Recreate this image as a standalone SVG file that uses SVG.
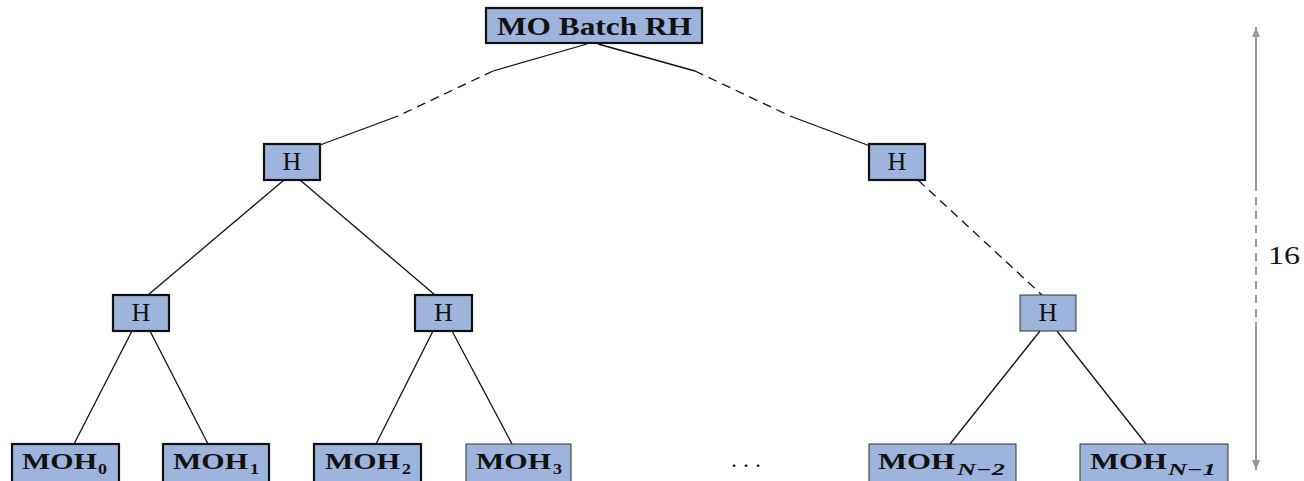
<svg xmlns="http://www.w3.org/2000/svg" width="1304" height="481" viewBox="0 0 1304 481">
<style>
.box{fill:#9eb4dc;stroke:#111;stroke-width:2.2}
.thin{fill:#9eb4dc;stroke:#333;stroke-width:1}
.t{font-family:"Liberation Serif","DejaVu Serif",serif;fill:#111}
.b{font-weight:bold}
.c{fill:none;stroke:#111;stroke-width:1.3}
.d{stroke-dasharray:9 6}
.g{fill:none;stroke:#999;stroke-width:2}
</style>
<defs>
<marker id="ah" viewBox="0 0 10 10" refX="10" refY="5" markerWidth="10" markerHeight="10" markerUnits="userSpaceOnUse" orient="auto">
<path d="M0,1 L10,5 L0,9 Z" fill="#999"/>
</marker>
</defs>
<g id="connectors">
<path class="c" d="M587,44 L493,71"/>
<path class="c d" d="M493,71 L398,116"/>
<path class="c" d="M398,116 L320,145"/>
<path class="c" d="M598,44 L695,71"/>
<path class="c d" d="M695,71 L790,116"/>
<path class="c" d="M790,116 L870,146"/>
<path class="c" d="M284,180 L148,295"/>
<path class="c" d="M300,180 L435,295"/>
<path class="c d" d="M918,180 L1042,295"/>
<path class="c" d="M132,331 L74,444"/>
<path class="c" d="M150,331 L208,444"/>
<path class="c" d="M433,331 L376,444"/>
<path class="c" d="M452,331 L512,444"/>
<path class="c" d="M1040,331 L950,444"/>
<path class="c" d="M1057,331 L1146,444"/>
</g>
<g id="root">
<rect class="box" x="486" y="8" width="216" height="35"/>
<text class="t b" x="497" y="35" font-size="26" textLength="195" lengthAdjust="spacingAndGlyphs">MO Batch RH</text>
</g>
<g id="h1l">
<rect class="box" x="264" y="144" width="56" height="36"/>
<text class="t" x="292" y="170" font-size="26" text-anchor="middle">H</text>
</g>
<g id="h1r">
<rect class="box" x="869" y="144" width="56" height="36"/>
<text class="t" x="897" y="170" font-size="26" text-anchor="middle">H</text>
</g>
<g id="h2a">
<rect class="box" x="113" y="295" width="56" height="36"/>
<text class="t" x="141" y="321" font-size="26" text-anchor="middle">H</text>
</g>
<g id="h2b">
<rect class="box" x="415" y="295" width="57" height="36"/>
<text class="t" x="443.5" y="321" font-size="26" text-anchor="middle">H</text>
</g>
<g id="h2c">
<rect class="thin" x="1020" y="295" width="56" height="36"/>
<text class="t" x="1048" y="321" font-size="26" text-anchor="middle">H</text>
</g>
<g id="moh0">
<rect class="box" x="12" y="444" width="107" height="50"/>
<text class="t b" x="22" y="469" font-size="24" textLength="75" lengthAdjust="spacingAndGlyphs">MOH</text>
<text class="t b" x="98" y="474" font-size="15" textLength="9" lengthAdjust="spacingAndGlyphs">0</text>
</g>
<g id="moh1">
<rect class="box" x="163" y="444" width="106" height="50"/>
<text class="t b" x="173" y="469" font-size="24" textLength="75" lengthAdjust="spacingAndGlyphs">MOH</text>
<text class="t b" x="250" y="474" font-size="15" textLength="9" lengthAdjust="spacingAndGlyphs">1</text>
</g>
<g id="moh2">
<rect class="box" x="314" y="444" width="107" height="50"/>
<text class="t b" x="325" y="469" font-size="24" textLength="75" lengthAdjust="spacingAndGlyphs">MOH</text>
<text class="t b" x="402" y="474" font-size="15" textLength="9" lengthAdjust="spacingAndGlyphs">2</text>
</g>
<g id="moh3">
<rect class="thin" x="466" y="444" width="105" height="50"/>
<text class="t b" x="476" y="469" font-size="24" textLength="75" lengthAdjust="spacingAndGlyphs">MOH</text>
<text class="t b" x="553" y="474" font-size="15" textLength="9" lengthAdjust="spacingAndGlyphs">3</text>
</g>
<g id="dots">
<text class="t" x="731" y="467" font-size="24" textLength="30" lengthAdjust="spacing">. . .</text>
</g>
<g id="mohn2">
<rect class="thin" x="869" y="444" width="147" height="50"/>
<text class="t b" x="878" y="469" font-size="24" textLength="77" lengthAdjust="spacingAndGlyphs">MOH</text>
<text class="t b" x="957" y="475" font-size="16" font-style="italic" textLength="48" lengthAdjust="spacingAndGlyphs">N−2</text>
</g>
<g id="mohn1">
<rect class="thin" x="1080" y="444" width="148" height="50"/>
<text class="t b" x="1090" y="469" font-size="24" textLength="77" lengthAdjust="spacingAndGlyphs">MOH</text>
<text class="t b" x="1168" y="475" font-size="16" font-style="italic" textLength="48" lengthAdjust="spacingAndGlyphs">N−1</text>
</g>
<g id="height">
<path class="g" d="M1256,183 L1256,27" marker-end="url(#ah)"/>
<path class="g" d="M1256,183 L1256,322" stroke-dasharray="8 6"/>
<path class="g" d="M1256,322 L1256,470" marker-end="url(#ah)"/>
<text class="t" x="1268" y="264" font-size="25" textLength="32" lengthAdjust="spacingAndGlyphs">16</text>
</g>
</svg>
